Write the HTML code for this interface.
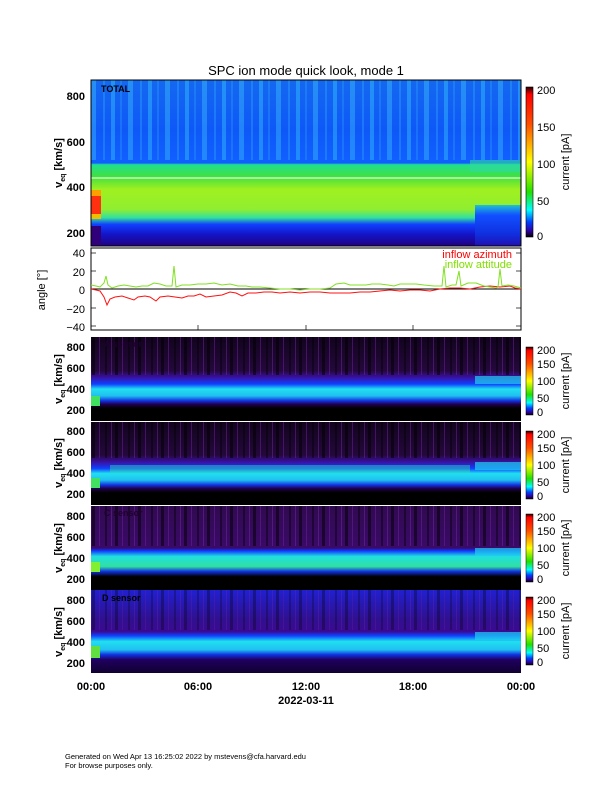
<!DOCTYPE html>
<html><head><meta charset="utf-8"><style>
html,body{margin:0;padding:0;background:#fff;}
svg{display:block;font-family:"Liberation Sans",sans-serif;}
</style></head><body>
<svg width="612" height="792" viewBox="0 0 612 792" xmlns="http://www.w3.org/2000/svg">
<defs>
<linearGradient id="gTop" x1="0" y1="0" x2="0" y2="1">
<stop offset="0" stop-color="#1468f0"/>
<stop offset="0.3" stop-color="#0f58f8"/>
<stop offset="0.5" stop-color="#1060ff"/>
<stop offset="0.51" stop-color="#20e090"/>
<stop offset="0.58" stop-color="#40e040"/>
<stop offset="0.66" stop-color="#a0f020"/>
<stop offset="0.78" stop-color="#90ee30"/>
<stop offset="0.83" stop-color="#30e0a0"/>
<stop offset="0.87" stop-color="#1040ff"/>
<stop offset="0.93" stop-color="#1414c8"/>
<stop offset="1" stop-color="#200080"/>
</linearGradient>
<linearGradient id="gRight" x1="0" y1="0" x2="0" y2="1">
<stop offset="0" stop-color="#20c0d0"/>
<stop offset="0.25" stop-color="#1050ff"/>
<stop offset="0.7" stop-color="#1030e0"/>
<stop offset="1" stop-color="#2010b0"/>
</linearGradient>
<linearGradient id="gCb" x1="0" y1="0" x2="0" y2="1">
<stop offset="0" stop-color="#200000"/>
<stop offset="0.05" stop-color="#ff0000"/>
<stop offset="0.25" stop-color="#ff5000"/>
<stop offset="0.5" stop-color="#ffff00"/>
<stop offset="0.7" stop-color="#20e000"/>
<stop offset="0.82" stop-color="#00ffff"/>
<stop offset="0.9" stop-color="#0040ff"/>
<stop offset="0.96" stop-color="#3000a0"/>
<stop offset="1" stop-color="#000000"/>
</linearGradient>
<linearGradient id="gS" x1="0" y1="0" x2="0" y2="1">
<stop offset="0" stop-color="#12041e"/>
<stop offset="0.4" stop-color="#24083c"/>
<stop offset="0.48" stop-color="#3a10a0"/>
<stop offset="0.56" stop-color="#1040ff"/>
<stop offset="0.62" stop-color="#20e0f0"/>
<stop offset="0.7" stop-color="#20c0f0"/>
<stop offset="0.76" stop-color="#1030e0"/>
<stop offset="0.8" stop-color="#200050"/>
<stop offset="0.85" stop-color="#000000"/>
<stop offset="1" stop-color="#000000"/>
</linearGradient>
<linearGradient id="gS3" x1="0" y1="0" x2="0" y2="1">
<stop offset="0" stop-color="#300a50"/>
<stop offset="0.5" stop-color="#3a0a68"/>
<stop offset="0.53" stop-color="#1030ff"/>
<stop offset="0.6" stop-color="#20e0e0"/>
<stop offset="0.72" stop-color="#30e0a0"/>
<stop offset="0.78" stop-color="#1030e0"/>
<stop offset="0.84" stop-color="#000000"/>
<stop offset="1" stop-color="#000000"/>
</linearGradient>
<linearGradient id="gS4" x1="0" y1="0" x2="0" y2="1">
<stop offset="0" stop-color="#2020d0"/>
<stop offset="0.35" stop-color="#301090"/>
<stop offset="0.5" stop-color="#3a0a90"/>
<stop offset="0.55" stop-color="#1040ff"/>
<stop offset="0.62" stop-color="#20e0f0"/>
<stop offset="0.72" stop-color="#20c0f0"/>
<stop offset="0.78" stop-color="#1030e0"/>
<stop offset="0.84" stop-color="#200060"/>
<stop offset="1" stop-color="#100030"/>
</linearGradient>
<pattern id="stripes" width="37" height="10" patternUnits="userSpaceOnUse">
<rect x="0" y="0" width="4" height="10" fill="#40e0ff" opacity="0.35"/>
<rect x="9" y="0" width="2" height="10" fill="#40d0ff" opacity="0.2"/>
<rect x="17" y="0" width="5" height="10" fill="#50e8ff" opacity="0.3"/>
<rect x="29" y="0" width="2" height="10" fill="#40d0ff" opacity="0.25"/>
</pattern>
<pattern id="dstripes" width="23" height="10" patternUnits="userSpaceOnUse">
<rect x="0" y="0" width="3" height="10" fill="#000" opacity="0.5"/>
<rect x="7" y="0" width="1" height="10" fill="#7020a0" opacity="0.5"/>
<rect x="13" y="0" width="2" height="10" fill="#000" opacity="0.4"/>
<rect x="19" y="0" width="1" height="10" fill="#8030b0" opacity="0.4"/>
</pattern>
</defs>

<text x="306" y="75" text-anchor="middle" font-size="13">SPC ion mode quick look, mode 1</text>

<!-- TOP PANEL -->
<rect x="91" y="80" width="430" height="166" fill="url(#gTop)"/>
<rect x="91" y="80" width="430" height="80" fill="url(#stripes)"/>
<rect x="475" y="205" width="46" height="41" fill="url(#gRight)"/>
<rect x="470" y="160" width="51" height="12" fill="#30d8a0" opacity="0.6"/>
<rect x="91" y="196" width="10" height="18" fill="#ff3010"/>
<rect x="91" y="190" width="10" height="6" fill="#ffa000"/>
<rect x="91" y="214" width="10" height="5" fill="#f0c000"/>
<rect x="91" y="226" width="10" height="20" fill="#30007a"/>
<line x1="91" y1="178" x2="521" y2="178" stroke="#fff" stroke-width="1"/>
<rect x="91" y="80" width="430" height="166" fill="none" stroke="#000" stroke-width="1"/>
<text x="101" y="92" font-size="9" font-weight="bold">TOTAL</text>
<g font-size="11" font-weight="bold" text-anchor="end">
<text x="85" y="100">800</text><text x="85" y="146">600</text><text x="85" y="191">400</text><text x="85" y="237">200</text>
</g>
<text transform="translate(62,163) rotate(-90)" text-anchor="middle" font-size="11" font-weight="bold">v<tspan font-size="7" dy="3">eq</tspan><tspan dy="-3"> [km/s]</tspan></text>
<rect x="526" y="87" width="7" height="150" fill="url(#gCb)" stroke="#000" stroke-width="0.6"/>
<g font-size="11"><text x="537" y="94">200</text><text x="537" y="131">150</text><text x="537" y="168">100</text><text x="537" y="205">50</text><text x="537" y="240">0</text></g>
<text transform="translate(569,162) rotate(-90)" text-anchor="middle" font-size="11">current [pA]</text>

<!-- ANGLE PANEL -->
<rect x="91" y="248" width="430" height="82" fill="#fff" stroke="#000" stroke-width="1"/>
<line x1="91" y1="289" x2="521" y2="289" stroke="#000" stroke-width="1"/>
<g stroke="#000" stroke-width="0.7">
<line x1="91" y1="253" x2="96" y2="253"/><line x1="91" y1="271" x2="96" y2="271"/><line x1="91" y1="308" x2="96" y2="308"/><line x1="91" y1="326" x2="96" y2="326"/>
<line x1="516" y1="253" x2="521" y2="253"/><line x1="516" y1="271" x2="521" y2="271"/><line x1="516" y1="308" x2="521" y2="308"/><line x1="516" y1="326" x2="521" y2="326"/>
<line x1="198" y1="330" x2="198" y2="325"/><line x1="306" y1="330" x2="306" y2="325"/><line x1="413" y1="330" x2="413" y2="325"/>
</g>
<g font-size="11" text-anchor="end">
<text x="85" y="257">40</text><text x="85" y="276">20</text><text x="85" y="294">0</text><text x="85" y="313">−20</text><text x="85" y="331">−40</text>
</g>
<text transform="translate(45,290) rotate(-90)" text-anchor="middle" font-size="11">angle [°]</text>
<text x="512" y="258" text-anchor="end" font-size="11" fill="#ff0000">inflow azimuth</text>
<text x="512" y="268" text-anchor="end" font-size="11" fill="#80e000">inflow attitude</text>
<polyline fill="none" stroke="#ff1010" stroke-width="1" points="91,289 96,290 100,291 104,297 107,305 110,299 115,297 122,296 128,298 134,300 138,297 145,296 150,297 156,301 160,297 168,296 175,297 182,298 188,296 194,296 200,294 206,297 214,296 222,295 230,292 236,293 242,296 248,293 256,293 264,292 272,292 280,293 290,292 300,293 310,292 320,292 330,293 340,293 350,293 360,292 370,292 380,291 390,290 400,291 410,290 420,290 430,291 440,289 450,288 460,288 470,289 480,287 490,286 500,287 510,286 515,288 521,289"/>
<polyline fill="none" stroke="#80e020" stroke-width="1" points="91,285 96,286 100,287 104,283 106,276 108,285 112,288 118,286 124,285 130,286 136,287 142,286 148,286 154,283 160,284 166,286 172,286 174,266 176,287 182,285 190,285 198,284 206,284 214,283 222,285 230,284 238,286 246,286 252,287 260,287 270,288 280,289 290,289 300,290 310,289 320,289 330,288 336,284 344,283 350,285 358,285 366,285 372,284 380,284 388,285 394,286 400,284 408,284 416,284 424,285 434,286 440,286 442,286 444,266 446,287 452,285 456,285 459,271 461,286 468,283 476,283 484,286 490,287 496,288 498,287 500,269 502,286 508,285 514,286 521,288"/>

<!-- SENSOR PANELS -->
<g>
<rect x="91" y="337" width="430" height="84" fill="url(#gS)"/>
<rect x="91" y="337" width="430" height="38" fill="url(#dstripes)"/>
<rect x="91" y="396" width="9" height="10" fill="#40e060"/>
<rect x="475" y="376" width="46" height="8" fill="#20d0f0" opacity="0.7"/>
<text x="104" y="347" font-size="9" font-weight="bold" fill="#200030">A sensor</text>
</g>
<g>
<rect x="91" y="422" width="430" height="83" fill="url(#gS)"/>
<rect x="91" y="422" width="430" height="36" fill="url(#dstripes)"/>
<rect x="91" y="478" width="9" height="10" fill="#40e060"/>
<rect x="110" y="465" width="360" height="8" fill="#30e0b0" opacity="0.45"/>
<rect x="475" y="462" width="46" height="8" fill="#20d0f0" opacity="0.7"/>
</g>
<g>
<rect x="91" y="506" width="430" height="84" fill="url(#gS3)"/>
<rect x="91" y="506" width="430" height="40" fill="url(#dstripes)"/>
<rect x="91" y="562" width="9" height="10" fill="#80f030"/>
<rect x="475" y="548" width="46" height="8" fill="#20d0f0" opacity="0.7"/>
<text x="104" y="516" font-size="9" font-weight="bold" fill="#200030">C sensor</text>
</g>
<g>
<rect x="91" y="590" width="430" height="83" fill="url(#gS4)"/>
<rect x="91" y="590" width="430" height="40" fill="url(#dstripes)" opacity="0.6"/>
<rect x="91" y="646" width="9" height="12" fill="#60e040"/>
<rect x="475" y="632" width="46" height="8" fill="#20d0f0" opacity="0.7"/>
<text x="102" y="601" font-size="9" font-weight="bold" fill="#000">D sensor</text>
</g>
<g font-size="11" font-weight="bold" text-anchor="end">
<text x="85" y="351">800</text><text x="85" y="372">600</text><text x="85" y="393">400</text><text x="85" y="414">200</text>
<text x="85" y="435">800</text><text x="85" y="456">600</text><text x="85" y="477">400</text><text x="85" y="498">200</text>
<text x="85" y="520">800</text><text x="85" y="541">600</text><text x="85" y="562">400</text><text x="85" y="583">200</text>
<text x="85" y="604">800</text><text x="85" y="625">600</text><text x="85" y="646">400</text><text x="85" y="667">200</text>
</g>
<g font-size="11" font-weight="bold" text-anchor="middle">
<text transform="translate(62,379) rotate(-90)">v<tspan font-size="7" dy="3">eq</tspan><tspan dy="-3"> [km/s]</tspan></text>
<text transform="translate(62,463) rotate(-90)">v<tspan font-size="7" dy="3">eq</tspan><tspan dy="-3"> [km/s]</tspan></text>
<text transform="translate(62,548) rotate(-90)">v<tspan font-size="7" dy="3">eq</tspan><tspan dy="-3"> [km/s]</tspan></text>
<text transform="translate(62,632) rotate(-90)">v<tspan font-size="7" dy="3">eq</tspan><tspan dy="-3"> [km/s]</tspan></text>
</g>
<g font-size="11">
<rect x="526" y="347" width="7" height="68" fill="url(#gCb)" stroke="#000" stroke-width="0.5"/>
<text x="537" y="354">200</text><text x="537" y="368">150</text><text x="537" y="385">100</text><text x="537" y="402">50</text><text x="537" y="416">0</text>
<text transform="translate(569,381) rotate(-90)" text-anchor="middle">current [pA]</text>
<rect x="526" y="431" width="7" height="68" fill="url(#gCb)" stroke="#000" stroke-width="0.5"/>
<text x="537" y="438">200</text><text x="537" y="452">150</text><text x="537" y="469">100</text><text x="537" y="486">50</text><text x="537" y="500">0</text>
<text transform="translate(569,465) rotate(-90)" text-anchor="middle">current [pA]</text>
<rect x="526" y="514" width="7" height="68" fill="url(#gCb)" stroke="#000" stroke-width="0.5"/>
<text x="537" y="521">200</text><text x="537" y="535">150</text><text x="537" y="552">100</text><text x="537" y="569">50</text><text x="537" y="583">0</text>
<text transform="translate(569,548) rotate(-90)" text-anchor="middle">current [pA]</text>
<rect x="526" y="597" width="7" height="68" fill="url(#gCb)" stroke="#000" stroke-width="0.5"/>
<text x="537" y="604">200</text><text x="537" y="618">150</text><text x="537" y="635">100</text><text x="537" y="652">50</text><text x="537" y="666">0</text>
<text transform="translate(569,631) rotate(-90)" text-anchor="middle">current [pA]</text>
</g>

<g font-size="11" font-weight="bold" text-anchor="middle">
<text x="91" y="690">00:00</text><text x="198" y="690">06:00</text><text x="306" y="690">12:00</text><text x="413" y="690">18:00</text><text x="521" y="690">00:00</text>
<text x="306" y="704">2022-03-11</text>
</g>
<g font-size="7.5">
<text x="65" y="759">Generated on Wed Apr 13 16:25:02 2022 by mstevens@cfa.harvard.edu</text>
<text x="65" y="768">For browse purposes only.</text>
</g>
</svg>
</body></html>
